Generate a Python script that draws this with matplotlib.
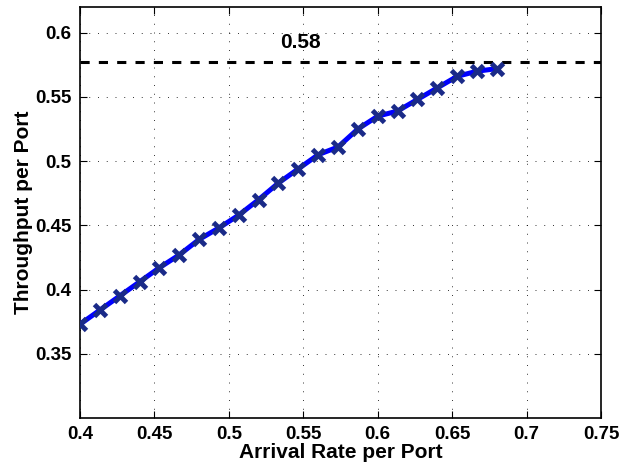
import numpy as np
import matplotlib.pyplot as plt

plt.rcParams['font.family'] = ['Liberation Sans', 'DejaVu Sans']
plt.rcParams['font.weight'] = 'bold'

# Данные
arrival = np.linspace(0.4, 0.68, 22)
throughput = [0.373, 0.384, 0.395, 0.406, 0.417, 0.427, 0.439, 0.448, 0.458, 0.470,
              0.483, 0.494, 0.505, 0.511, 0.525, 0.535, 0.539, 0.548, 0.557, 0.566,
              0.570, 0.572]
bound = 0.577
bound_label = "0.58"

x_ticks = [0.4, 0.45, 0.5, 0.55, 0.6, 0.65, 0.7, 0.75]
y_ticks = [0.35, 0.4, 0.45, 0.5, 0.55, 0.6]

fig = plt.figure(figsize=(6.35, 4.68), dpi=100)
ax = fig.add_axes([80 / 635, 50 / 468, 521 / 635, 411 / 468])

ax.axhline(bound, color='black', linestyle=(0, (3, 3)), linewidth=2.2)
ax.plot(arrival, throughput, color='#0000ff', linewidth=3.6, marker='x',
        markersize=8.5, markeredgewidth=3.5, markeredgecolor='#1a2a88', zorder=3)
ax.text(0.548, 0.592, bound_label, fontsize=15, fontweight='bold', ha='center', va='center')

ax.set_xlim(0.4, 0.75)
ax.set_ylim(0.3, 0.62)
ax.set_xticks(x_ticks)
ax.set_xticklabels([f"{t:g}" for t in x_ticks])
ax.set_yticks(y_ticks)
ax.set_yticklabels([f"{t:g}" for t in y_ticks])
ax.tick_params(direction='in', top=True, right=True, labelsize=13.5, length=5, pad=6)
ax.grid(True, color='black', linestyle=(0, (1, 8)), linewidth=0.7, alpha=0.8)
for s in ax.spines.values():
    s.set_linewidth(1.2)

ax.set_xlabel("Arrival Rate per Port", fontsize=15, fontweight='bold', labelpad=0)
ax.set_ylabel("Throughput per Port", fontsize=15, fontweight='bold', labelpad=2)

plt.savefig("out.png", dpi=100)
